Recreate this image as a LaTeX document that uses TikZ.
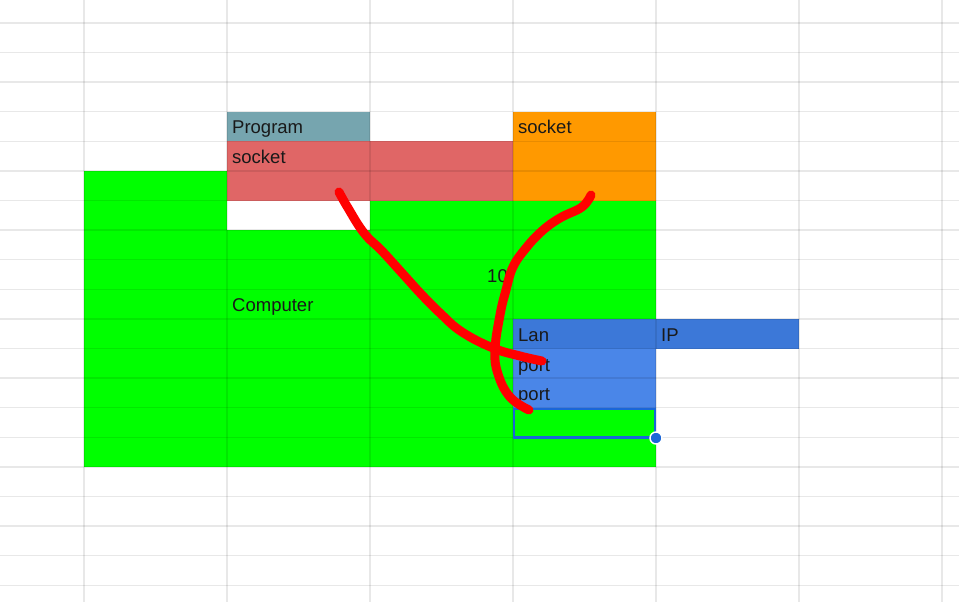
\documentclass[tikz,border=0pt]{standalone}
\usepackage{fontspec}
\setmainfont{Liberation Sans}
\usetikzlibrary{positioning,calc}

\definecolor{sheetgreen}{HTML}{00FF00}
\definecolor{sheetred}{HTML}{E06666}
\definecolor{sheetorange}{HTML}{FF9900}
\definecolor{sheetteal}{HTML}{76A5AF}
\definecolor{lanblue}{HTML}{3C78D8}
\definecolor{portblue}{HTML}{4A86E8}
\definecolor{selblue}{HTML}{1A66D8}
\newcommand\cellfont{\fontsize{18.5}{22}\selectfont}
\tikzset{
  gridline/.style={draw=black,opacity=0.09,line width=1.3pt},
  celltext/.style={anchor=base west,inner sep=0pt,font=\cellfont,text=black!90},
  ink/.style={draw=red,line width=9pt,line cap=round,line join=round}
}

\begin{document}
\begin{tikzpicture}[x=1pt,y=-1pt]
		\useasboundingbox (0,0) rectangle (959,602);
		\fill[white] (0,0) rectangle (959,602);
		\fill[sheetgreen] (84,171) rectangle (656,467);
		\fill[white] (227,201) rectangle (370,230);
		\fill[sheetred] (227,141) rectangle (513,201);
		\fill[sheetorange] (513,112) rectangle (656,201);
		\fill[sheetteal] (227,112) rectangle (370,141);
		\fill[lanblue] (513,319) rectangle (799,349);
		\fill[portblue] (513,349) rectangle (656,408);
		\foreach \x in {84,227,370,513,656,799,942}
			\draw[gridline] (\x,0) -- (\x,602);
		\foreach \k in {0,...,19}
			\draw[gridline] (0,{22.9+29.6*\k}) -- (959,{22.9+29.6*\k});
		\node[celltext] (prog) at (232,133.5) {Program};
		\node[celltext] (sock) at (232,163) {socket};
		\node[celltext] (sockb) at (518,133.5) {socket};
		\node[celltext,anchor=base east] (ten) at (508,282) {10};
		\node[celltext] (comp) at (232,311.5) {Computer};
		\node[celltext] (lan) at (518,341.5) {Lan};
		\node[celltext] (ip) at (661,341.5) {IP};
		\node[celltext] (porta) at (518,371) {port};
		\node[celltext] (portb) at (518,400.5) {port};
		\draw[selblue,line width=2.2pt] (514,409) rectangle (655,437.5);
		\coordinate (s1) at (339,192);
		\coordinate (p1) at (542,361);
		\coordinate (s2) at (591,195);
		\coordinate (p2) at (529,410);
		\draw[ink] plot[smooth, tension=.7] coordinates {(s1) (348,208) (364,233) (382,251) (402,273) (422,295) (441,314) (462,332) (493,348) (520,356) (p1)};
		\draw[ink] plot[smooth, tension=.7] coordinates {(s2) (582,207) (560,218) (542,231) (526,248) (513,267) (506,290) (500,315) (495,350) (498,374) (510,397) (p2)};
		\fill[selblue,draw=white,line width=1.4pt] (656,438) circle (6pt);
\end{tikzpicture}
\end{document}
